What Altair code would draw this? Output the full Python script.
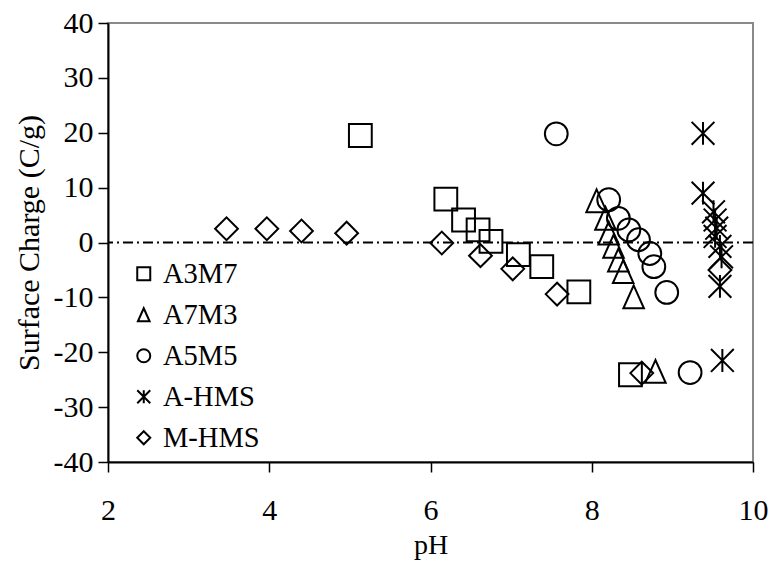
import altair as alt
import pandas as pd

series_names = ["A3M7", "A7M3", "A5M5", "A-HMS", "M-HMS"]

a3m7_ph = [5.13, 6.19, 6.41, 6.59, 6.75, 7.09, 7.38, 7.84, 8.48]
a3m7_q = [19.5, 7.9, 4.1, 2.3, 0.2, -2.2, -4.4, -9.0, -24.1]

a7m3_ph = [8.06, 8.17, 8.21, 8.27, 8.33, 8.39, 8.52, 8.79]
a7m3_q = [7.6, 4.4, 1.7, -0.7, -3.2, -5.3, -9.9, -23.5]

a5m5_ph = [7.56, 8.21, 8.33, 8.46, 8.58, 8.72, 8.77, 8.93, 9.22]
a5m5_q = [19.8, 7.8, 4.4, 2.3, 0.5, -2.0, -4.4, -9.1, -23.7]

ahms_ph = [9.38, 9.38, 9.51, 9.53, 9.55, 9.53, 9.59, 9.61, 9.59, 9.62]
ahms_q = [19.9, 9.0, 5.6, 4.1, 2.6, 1.1, -0.7, -2.6, -8.0, -21.5]

mhms_ph = [3.47, 3.97, 4.40, 4.96, 6.14, 6.62, 7.02, 7.57, 8.62, 9.59]
mhms_q = [2.5, 2.5, 2.1, 1.7, -0.1, -2.4, -4.8, -9.4, -23.8, -5.0]

x_ticks = [2, 4, 6, 8, 10]
y_ticks = [-40, -30, -20, -10, 0, 10, 20, 30, 40]

rows = []
for name, xs, ys in [
    ("A3M7", a3m7_ph, a3m7_q),
    ("A7M3", a7m3_ph, a7m3_q),
    ("A5M5", a5m5_ph, a5m5_q),
    ("A-HMS", ahms_ph, ahms_q),
    ("M-HMS", mhms_ph, mhms_q),
]:
    for x, y in zip(xs, ys):
        rows.append({"series": name, "pH": x, "charge": y})
df = pd.DataFrame(rows)
zero_df = pd.DataFrame({"charge": [0]})

FONT = "Liberation Serif"

shape_range = [
    "M-1,-1L1,-1L1,1L-1,1Z",
    "M0,-1L-0.9,1L0.9,1Z",
    "circle",
    "M-1,-1L1,1M-1,1L1,-1M0,-1L0,1",
    "diamond",
]

x_scale = alt.Scale(domain=[2, 10], nice=False, zero=False)
y_scale = alt.Scale(domain=[-40, 40], nice=False, zero=False)

points = alt.Chart(df).mark_point(
    filled=False, color="black", strokeWidth=2, opacity=1, size=520
).encode(
    x=alt.X("pH:Q", scale=x_scale, axis=alt.Axis(
        values=x_ticks, title="pH", tickSize=10, labelPadding=23,
        labelFont=FONT, titleFont=FONT, labelFontSize=30, titleFontSize=28,
        labelFlush=False, labelOverlap=False, grid=False,
        titleY=91, titleBaseline="alphabetic",
    )),
    y=alt.Y("charge:Q", scale=y_scale, axis=alt.Axis(
        values=y_ticks, title="Surface Charge (C/g)", tickSize=10, labelPadding=5,
        labelFont=FONT, titleFont=FONT, labelFontSize=30, titleFontSize=30,
        labelFlush=False, labelOverlap=False, grid=False,
        labelExpr="(datum.value < 0 ? '-' : '') + abs(datum.value)",
        titleX=-70, titleY=219.5, titleBaseline="alphabetic",
    )),
    shape=alt.Shape("series:N", title=None, scale=alt.Scale(domain=series_names, range=shape_range),
                    sort=series_names,
                    legend=alt.Legend(orient="none", legendX=21.5, legendY=236.5,
                                      labelFont=FONT, labelFontSize=28.5, labelColor="black",
                                      symbolSize=169, symbolStrokeWidth=2, symbolStrokeColor="black",
                                      rowPadding=12, labelOffset=5, padding=0)),
)

zero_line = alt.Chart(zero_df).mark_rule(
    color="black", strokeWidth=2, strokeDash=[10, 4, 2, 4]
).encode(y=alt.Y("charge:Q", scale=y_scale))

chart = alt.layer(zero_line, points).properties(
    width=645, height=439,
    autosize=alt.AutoSizeParams(type="none"),
    padding={"left": 108, "top": 23, "right": 18, "bottom": 99},
    background="white",
).configure_view(
    stroke="#8a8a8a", strokeWidth=2
).configure_axis(
    labelColor="black", titleColor="black", titleFontWeight="normal",
    domainColor="black", domainWidth=2, tickColor="black", tickWidth=1.5,
)

chart.save("out.html", embed_options={"renderer": "svg", "actions": False})
